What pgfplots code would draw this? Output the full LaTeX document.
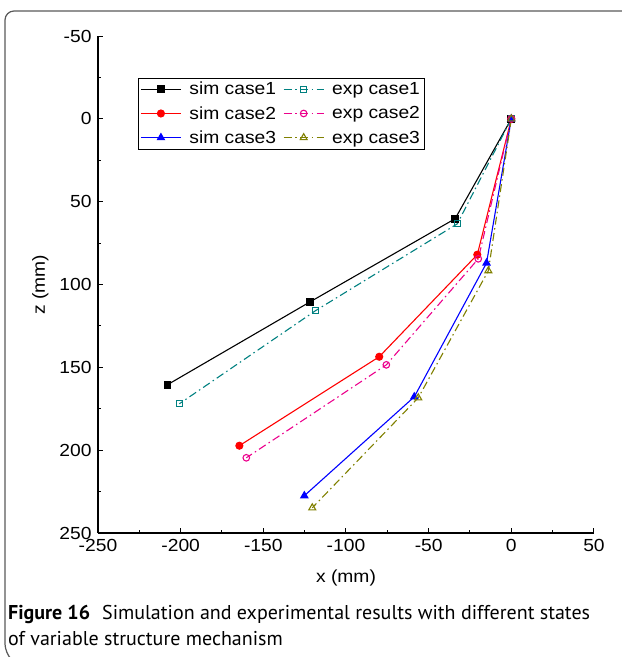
\documentclass[border=0pt]{standalone}
\usepackage{fontspec}
\setmainfont{Liberation Sans}[FakeStretch=1.1]
\newfontfamily\capfont{PT Sans}
\usepackage{pgfplots}
\pgfplotsset{compat=1.18}

\definecolor{tealc}{RGB}{0,128,128}
\definecolor{olivec}{RGB}{128,128,0}

\begin{document}
\begin{tikzpicture}
\begin{axis}[
    name=ax,
    scale only axis, width=496pt, height=497pt,
    xmin=-250, xmax=50, ymin=-50, ymax=250,
    y dir=reverse,
    axis x line=bottom, axis y line=left,
    axis line style={-, line width=1.3pt},
    xtick={-250,-200,...,50}, ytick={-50,0,...,250},
    minor tick num=1,
    tick align=inside,
    major tick length=5pt, minor tick length=3pt,
    tick style={line width=1pt, black},
    /pgf/number format/assume math mode=true,
    tick label style={font=\fontsize{17.5}{20}\selectfont},
    xticklabel style={yshift=-3pt},
    yticklabel style={xshift=-3pt},
    label style={font=\fontsize{17.5}{20}\selectfont},
    xlabel={x (mm)}, ylabel={z (mm)},
    xlabel style={yshift=-11pt},
    ylabel style={yshift=4pt},
    legend columns=2,
    legend style={at={(0.081,0.9155)}, anchor=north west,
        font=\fontsize{17.5}{21}\selectfont, inner sep=2pt, row sep=6pt,
        /tikz/every even column/.append style={column sep=5pt},
        /tikz/every odd column/.append style={column sep=6pt}},
    legend image code/.code={\draw[mark repeat=2,mark phase=2]
        plot coordinates {(0pt,0pt) (20pt,0pt) (40pt,0pt)};},
    every axis plot/.append style={line width=1.1pt},
]
\addplot[color=black, mark=square*, mark size=3.3pt]
    coordinates {(0,0) (-34,60.3) (-121.6,110.4) (-208,160.5)};
\addplot[color=tealc, dash pattern=on 8pt off 3.5pt on 1.5pt off 3.5pt, mark=square, mark size=3pt, mark options={solid}]
    coordinates {(0,0) (-32.7,63.4) (-118.6,115.9) (-200.8,172)};
\addplot[color=red, mark=*, mark size=3.5pt]
    coordinates {(0,0) (-20.6,82) (-79.9,143.6) (-164.5,197.3)};
\addplot[color=magenta, dash pattern=on 8pt off 3.5pt on 1.5pt off 3.5pt, mark=o, mark size=3.3pt, mark options={solid}]
    coordinates {(0,0) (-20,84.5) (-75.6,148.5) (-160.3,204.6)};
\addplot[color=blue, mark=triangle*, mark size=4pt]
    coordinates {(0,0) (-15,87) (-58.7,167.8) (-125.2,227.5)};
\addplot[color=olivec, dash pattern=on 8pt off 3.5pt on 1.5pt off 3.5pt, mark=triangle, mark size=4pt, mark options={solid}]
    coordinates {(0,0) (-13.9,91.7) (-56.3,168.4) (-120.4,234.8)};
\legend{sim case1, exp case1, sim case2, exp case2, sim case3, exp case3}
\coordinate (bl) at (axis cs:-250,250);
\end{axis}

\pgfresetboundingbox
\begin{scope}[shift={(bl)}, x=1pt, y=1pt]
\path[use as bounding box] (-98,-124) rectangle (524,533);
\draw[black!65, line width=1.2pt, rounded corners=9pt]
    (-89,-124) -- (-93,-120) -- (-93,522) -- (528,522);
\node[anchor=base west, inner sep=0pt, font=\capfont\fontsize{20}{24}\selectfont]
    at (-90,-86) {\textbf{Figure 16}\hspace{0.6em}Simulation and experimental results with different states};
\node[anchor=base west, inner sep=0pt, font=\capfont\fontsize{20}{24}\selectfont]
    at (-90,-112) {of variable structure mechanism};
\end{scope}
\end{tikzpicture}
\end{document}
